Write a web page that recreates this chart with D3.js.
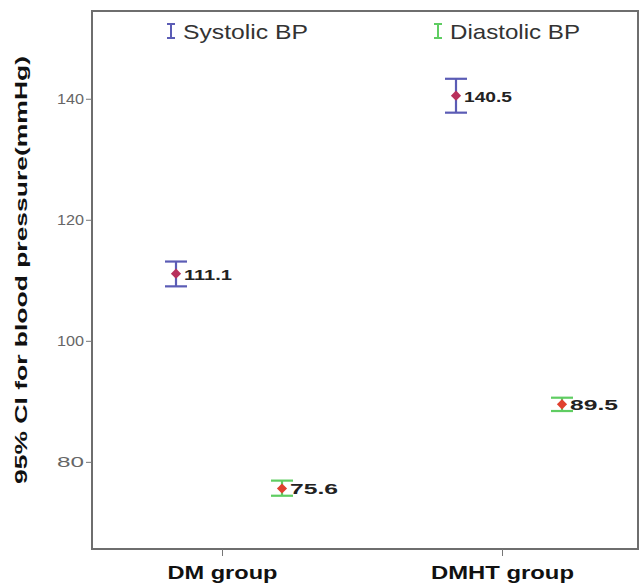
<!DOCTYPE html>
<html>
<head>
<meta charset="utf-8">
<script src="https://cdn.jsdelivr.net/npm/d3@7"></script>
<style>
  body { margin: 0; background: #fff; }
  svg { display: block; font-family: "Liberation Sans", Arial, sans-serif; }
</style>
</head>
<body>
<svg width="640" height="585"></svg>
<script>
var groups = ["DM group", "DMHT group"];
var seriesNames = ["Systolic BP", "Diastolic BP"];
var means = [[111.1, 140.5], [75.6, 89.5]];
var lower = [[109.0, 137.7], [74.4, 88.4]];
var upper = [[113.1, 143.3], [76.9, 90.6]];
var yTicks = [80, 100, 120, 140];

var svg = d3.select("svg"),
    margin = {top: 11, right: 2, bottom: 36, left: 92},
    width = svg.attr("width") - margin.left - margin.right,
    height = svg.attr("height") - margin.top - margin.bottom;

var y = d3.scaleLinear().domain([65.6, 154.5]).range([height, 0]);
var x = d3.scalePoint().domain(groups).range([130, 410]).padding(0);
var offset = d3.scalePoint().domain(seriesNames).range([-46, 60]);

var barColors = ["#5b5cb5", "#5fcd62"];
var dotColors = ["#b8305c", "#e0402f"];

var g = svg.append("g")
    .attr("transform", "translate(" + margin.left + "," + margin.top + ")");

g.append("rect")
    .attr("width", width).attr("height", height)
    .attr("fill", "none").attr("stroke", "#6e6e6e").attr("stroke-width", 2);

var yAxis = g.append("g")
    .call(d3.axisLeft(y).tickValues(yTicks).tickSize(6).tickPadding(2));
yAxis.select(".domain").remove();
yAxis.selectAll("line").attr("stroke", "#777");
yAxis.selectAll("text").attr("fill", "#666").style("font-size", "15px")
    .attr("textLength", 27).attr("lengthAdjust", "spacingAndGlyphs");

var xAxis = g.append("g")
    .attr("transform", "translate(0," + height + ")")
    .call(d3.axisBottom(x).tickSize(7).tickPadding(10));
xAxis.select(".domain").remove();
xAxis.selectAll("line").attr("stroke", "#777");
xAxis.selectAll("text").attr("fill", "#111").style("font-size", "18px").style("font-weight", "bold")
    .attr("textLength", function(d) { return d === "DM group" ? 110 : 143; })
    .attr("lengthAdjust", "spacingAndGlyphs");

svg.append("text")
    .attr("transform", "translate(27," + 270 + ") rotate(-90)")
    .attr("text-anchor", "middle")
    .style("font-size", "17px").style("font-weight", "bold").attr("fill", "#111")
    .attr("textLength", 428).attr("lengthAdjust", "spacingAndGlyphs")
    .text("95% CI  for blood pressure(mmHg)");

seriesNames.forEach(function(s, si) {
  groups.forEach(function(gr, gi) {
    var cx = x(gr) + offset(s);
    var cap = 11;
    var eb = g.append("g").attr("stroke", barColors[si]).attr("stroke-width", 2.2);
    eb.append("line").attr("x1", cx).attr("x2", cx).attr("y1", y(lower[si][gi])).attr("y2", y(upper[si][gi]));
    eb.append("line").attr("x1", cx - cap).attr("x2", cx + cap).attr("y1", y(lower[si][gi])).attr("y2", y(lower[si][gi]));
    eb.append("line").attr("x1", cx - cap).attr("x2", cx + cap).attr("y1", y(upper[si][gi])).attr("y2", y(upper[si][gi]));
    g.append("path")
      .attr("d", d3.symbol(d3.symbolSquare, 52))
      .attr("transform", "translate(" + cx + "," + y(means[si][gi]) + ") rotate(45)")
      .attr("fill", dotColors[si]);
    g.append("text")
      .attr("x", cx + 8).attr("y", y(means[si][gi]) + 6)
      .style("font-size", "15px").style("font-weight", "bold").attr("fill", "#222")
      .attr("textLength", 48).attr("lengthAdjust", "spacingAndGlyphs")
      .text(means[si][gi].toFixed(1));
  });
});

// legend
var legX = [171, 438];
var legLen = [125, 130];
seriesNames.forEach(function(s, si) {
  var lg = svg.append("g").attr("transform", "translate(" + legX[si] + ",31)");
  var lc = lg.append("g").attr("stroke", barColors[si]).attr("stroke-width", 2);
  lc.append("line").attr("x1", 0).attr("x2", 0).attr("y1", -7).attr("y2", 7);
  lc.append("line").attr("x1", -4).attr("x2", 4).attr("y1", -7).attr("y2", -7);
  lc.append("line").attr("x1", -4).attr("x2", 4).attr("y1", 7).attr("y2", 7);
  lg.append("text").attr("x", 12).attr("y", 8)
    .style("font-size", "21px").attr("fill", "#333")
    .attr("textLength", legLen[si]).attr("lengthAdjust", "spacingAndGlyphs")
    .text(s);
});
</script>
</body>
</html>
